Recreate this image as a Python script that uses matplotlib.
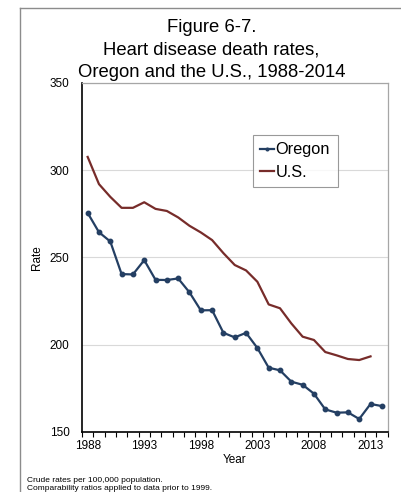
import numpy as np
import matplotlib
matplotlib.use('Agg')
import matplotlib.pyplot as plt
from matplotlib.lines import Line2D

plt.rcParams['font.family'] = ['Liberation Sans', 'DejaVu Sans']

# rates per 100,000
years = list(range(1988, 2015))
oregon = [275.5, 264.4, 259.1, 240.4, 240.2, 248.4, 237.1, 237.0, 237.9, 229.9,
          219.6, 219.7, 206.7, 204.1, 206.7, 198.0, 186.7, 185.2, 178.7, 176.9,
          171.8, 162.8, 160.9, 161.1, 157.3, 165.9, 164.7]
us = [307.6, 292.0, 284.7, 278.4, 278.4, 281.6, 277.8, 276.6, 272.9, 268.1,
      264.3, 259.9, 252.4, 245.6, 242.5, 236.0, 223.0, 220.8, 212.1, 204.5,
      202.6, 195.7, 193.8, 191.7, 191.1, 193.2]
tick_years = ['1988', '1993', '1998', '2003', '2008', '2013']

W, H = 401, 492
fig = plt.figure(figsize=(W / 100, H / 100), dpi=100)

def fx(px):
    return px / W

def fy(py):
    return 1 - py / H

# outer chart border (left and top visible)
fig.add_artist(Line2D([fx(20), fx(20)], [fy(8.3), 0], color='#8c8c8c', lw=1.0))
fig.add_artist(Line2D([fx(20), 1], [fy(8.3), fy(8.3)], color='#8c8c8c', lw=1.0))

ax = fig.add_axes([fx(82), fy(431.7), fx(387.5) - fx(82), fy(83) - fy(431.7)])

x = np.arange(len(years))
ax.plot(x, oregon, color='#243f63', lw=1.6, marker='o', ms=3.2, label='Oregon')
ax.plot(x[:len(us)], us, color='#772c2a', lw=1.6, label='U.S.')

ax.set_xlim(-0.5, len(years) - 0.5)
ax.set_ylim(150, 350)
ax.set_yticks([150, 200, 250, 300, 350])
ax.yaxis.grid(True, color='#d9d9d9', lw=0.8)
ax.set_axisbelow(True)

ax.set_xticks(x[::5])
ax.set_xticklabels(tick_years)
ax.set_xticks(np.arange(-0.5, len(years)), minor=True)
ax.tick_params(axis='x', which='major', length=0, pad=6, labelsize=8.5)
ax.tick_params(axis='x', which='minor', length=3.5, width=0.8, direction='out')
ax.tick_params(axis='y', length=0, pad=9, labelsize=8.5)

for s in ['left', 'bottom']:
    ax.spines[s].set_color('black')
    ax.spines[s].set_linewidth(1.2)
for s in ['top', 'right']:
    ax.spines[s].set_color('#a6a6a6')
    ax.spines[s].set_linewidth(0.9)

ax.set_xlabel('Year', fontsize=8.5)
ax.xaxis.set_label_coords(0.5, -0.065)
ax.set_ylabel('Rate', fontsize=8.5)
ax.yaxis.set_label_coords(-0.128, 0.5)

leg = ax.legend(loc='upper left', bbox_to_anchor=(0.559, 0.851), fontsize=11.8,
                frameon=True, fancybox=False, edgecolor='#808080',
                handlelength=0.85, handletextpad=0.1, borderpad=0.45,
                labelspacing=0.45, borderaxespad=0, markerscale=0.6)
leg.get_frame().set_linewidth(0.8)

title_lines = ['Figure 6-7.', 'Heart disease death rates,',
               'Oregon and the U.S., 1988-2014']
for i, t in enumerate(title_lines):
    fig.text(fx(211.5), fy(31.7 + 22.8 * i), t, ha='center', va='baseline', fontsize=13.3)

fig.text(fx(27), fy(481.5), 'Crude rates per 100,000 population.', fontsize=6, va='baseline')
fig.text(fx(27), fy(490.3), 'Comparability ratios applied to data prior to 1999.',
         fontsize=6, va='baseline')

fig.savefig('out.png', dpi=100)
